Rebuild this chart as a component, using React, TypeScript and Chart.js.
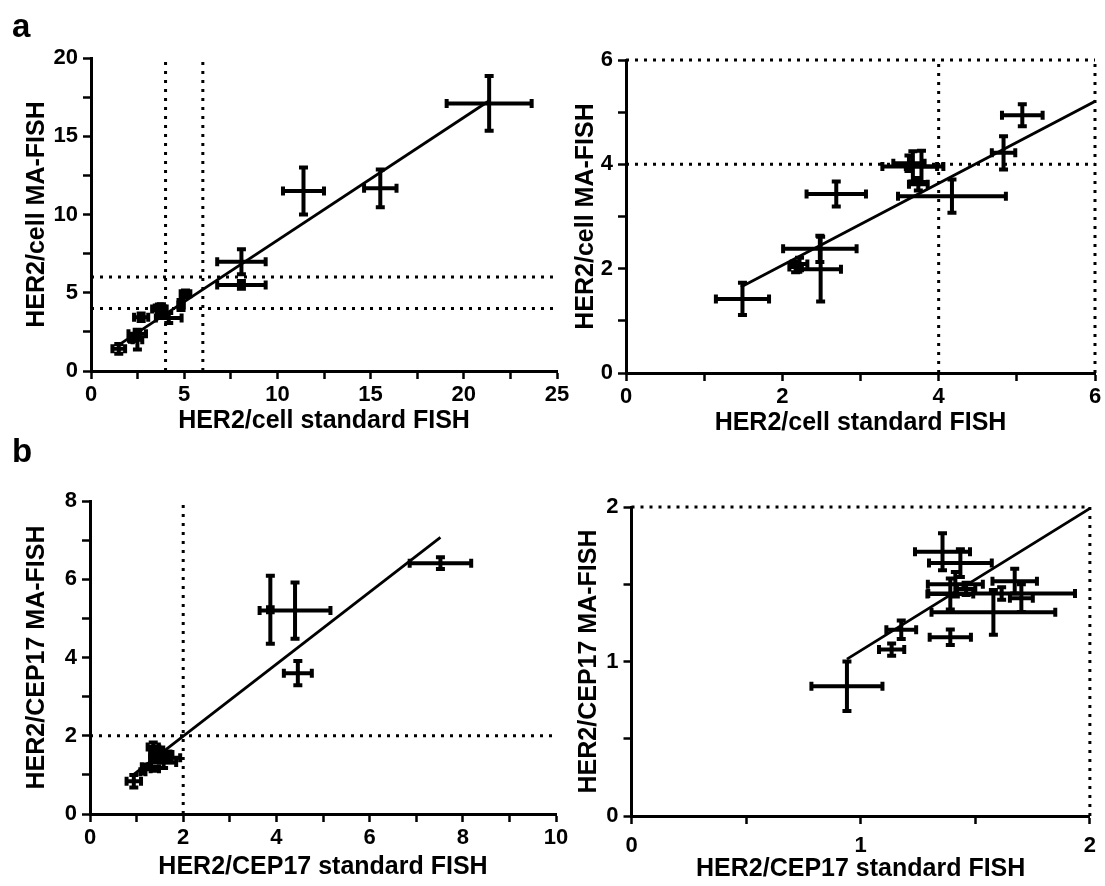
import React, { useEffect, useRef } from 'react';
import { Chart, registerables } from 'chart.js';

Chart.register(...registerables);

const FONT = "'Liberation Sans', Arial, Helvetica, sans-serif";

// HER2 copies per cell: standard FISH (x) vs MA-FISH (y), mean ± SD per sample
const cellStd = [21.36, 11.4, 15.52, 8.07, 8.07, 5.07, 4.83, 4.17, 3.67, 3.78, 3.74, 3.62, 2.69, 2.48, 2.49, 2.22, 2.17, 1.49];
const cellMa = [17.1, 11.5, 11.67, 6.98, 5.5, 4.94, 4.22, 3.39, 3.96, 3.96, 3.62, 4.02, 3.43, 2.38, 1.99, 2.09, 2.03, 1.42];
const cellStdSd = [2.28, 1.1, 0.87, 1.3, 1.3, 0.26, 0.15, 0.69, 0.39, 0.2, 0.12, 0.2, 0.38, 0.47, 0.26, 0.1, 0.08, 0.34];
const cellMaSd = [1.75, 1.5, 1.2, 0.8, 0.25, 0.21, 0.32, 0.32, 0.29, 0.3, 0.12, 0.15, 0.24, 0.25, 0.62, 0.12, 0.1, 0.31];
const cellFitX = [1.47, 21.36];
const cellFitY = [1.65, 17.27];
const cellCutoffs = [4, 6];

// HER2/CEP17 ratio: standard FISH (x) vs MA-FISH (y), mean ± SD per sample
const ratioStd = [7.52, 3.87, 4.4, 4.46, 1.357, 1.435, 1.413, 1.391, 1.615, 1.672, 1.701, 1.579, 1.391, 1.177, 1.135, 0.94, 1.46];
const ratioMa = [6.41, 5.22, 5.2, 3.6, 1.71, 1.637, 1.5, 1.437, 1.44, 1.52, 1.41, 1.318, 1.157, 1.206, 1.077, 0.84, 1.47];
const ratioStdSd = [0.66, 0.05, 0.76, 0.3, 0.12, 0.137, 0.12, 0.1, 0.32, 0.097, 0.05, 0.27, 0.09, 0.065, 0.055, 0.155, 0.04];
const ratioMaSd = [0.15, 0.87, 0.72, 0.31, 0.12, 0.09, 0.08, 0.1, 0.04, 0.08, 0.09, 0.145, 0.05, 0.06, 0.04, 0.16, 0.04];
const ratioFitX = [0.94, 7.52];
const ratioFitY = [1.015, 7.07];
const ratioCutoffs = [2];

type Series = {
  xs: number[];
  ys: number[];
  xe: number[];
  ye: number[];
  fitX: number[];
  fitY: number[];
  cut: number[];
};

const cellSeries: Series = { xs: cellStd, ys: cellMa, xe: cellStdSd, ye: cellMaSd, fitX: cellFitX, fitY: cellFitY, cut: cellCutoffs };
const ratioSeries: Series = { xs: ratioStd, ys: ratioMa, xe: ratioStdSd, ye: ratioMaSd, fitX: ratioFitX, fitY: ratioFitY, cut: ratioCutoffs };

type PanelSpec = {
  box: [number, number, number, number]; // canvas left, top, width, height
  area: [number, number, number, number]; // plot area left, top, right, bottom inside the canvas
  xMax: number; xStep: number; xLabelEvery: number;
  yMax: number; yStep: number; yLabelEvery: number;
  xTitle: string; yTitle: string;
  yTitleX: number; xAxisH: number; xTickPad: number;
  series: Series;
};

const panels: PanelSpec[] = [
  {
    box: [0, 0, 585, 445], area: [91, 58, 557, 371],
    xMax: 25, xStep: 2.5, xLabelEvery: 5, yMax: 20, yStep: 2.5, yLabelEvery: 5,
    xTitle: 'HER2/cell standard FISH', yTitle: 'HER2/cell MA-FISH',
    yTitleX: 37.5, xAxisH: 65, xTickPad: 3, series: cellSeries,
  },
  {
    box: [560, 0, 545, 445], area: [66, 60, 535, 373],
    xMax: 6, xStep: 1, xLabelEvery: 2, yMax: 6, yStep: 1, yLabelEvery: 2,
    xTitle: 'HER2/cell standard FISH', yTitle: 'HER2/cell MA-FISH',
    yTitleX: 26, xAxisH: 65, xTickPad: 3, series: cellSeries,
  },
  {
    box: [0, 440, 585, 446], area: [90, 61, 556, 374],
    xMax: 10, xStep: 1, xLabelEvery: 2, yMax: 8, yStep: 1, yLabelEvery: 2,
    xTitle: 'HER2/CEP17 standard FISH', yTitle: 'HER2/CEP17 MA-FISH',
    yTitleX: 37, xAxisH: 68, xTickPad: 3, series: ratioSeries,
  },
  {
    box: [560, 440, 545, 446], area: [71.5, 67, 534, 376],
    xMax: 2, xStep: 0.5, xLabelEvery: 1, yMax: 2, yStep: 0.5, yLabelEvery: 1,
    xTitle: 'HER2/CEP17 standard FISH', yTitle: 'HER2/CEP17 MA-FISH',
    yTitleX: 29.5, xAxisH: 68, xTickPad: 9, series: ratioSeries,
  },
];

// Draws symmetric x/y error bars with end caps for datasets carrying errX/errY
const errorBarPlugin = {
  id: 'errorBars',
  afterDatasetsDraw(chart: any) {
    const { ctx, chartArea, scales } = chart;
    const xs = scales.x;
    const ys = scales.y;
    const cap = 4.5;
    ctx.save();
    ctx.beginPath();
    ctx.rect(chartArea.left - 5, chartArea.top - 5, chartArea.width + 10, chartArea.height + 10);
    ctx.clip();
    ctx.strokeStyle = '#000';
    ctx.lineWidth = 4;
    ctx.lineCap = 'butt';
    chart.data.datasets.forEach((ds: any) => {
      if (!ds.errX) return;
      ds.data.forEach((pt: any, i: number) => {
        const cx = xs.getPixelForValue(pt.x);
        const cy = ys.getPixelForValue(pt.y);
        const x0 = xs.getPixelForValue(pt.x - ds.errX[i]);
        const x1 = xs.getPixelForValue(pt.x + ds.errX[i]);
        const y0 = ys.getPixelForValue(pt.y - ds.errY[i]);
        const y1 = ys.getPixelForValue(pt.y + ds.errY[i]);
        ctx.beginPath();
        ctx.moveTo(x0, cy); ctx.lineTo(x1, cy);
        ctx.moveTo(cx, y0); ctx.lineTo(cx, y1);
        ctx.moveTo(x0, cy - cap); ctx.lineTo(x0, cy + cap);
        ctx.moveTo(x1, cy - cap); ctx.lineTo(x1, cy + cap);
        ctx.moveTo(cx - cap, y0); ctx.lineTo(cx + cap, y0);
        ctx.moveTo(cx - cap, y1); ctx.lineTo(cx + cap, y1);
        ctx.stroke();
      });
    });
    ctx.restore();
  },
};

const isMultiple = (v: number, every: number) => Math.abs(v / every - Math.round(v / every)) < 1e-6;

function buildConfig(p: PanelSpec): any {
  const s = p.series;
  const idx = s.xs.map((_, i) => i).filter((i) => s.xs[i] <= p.xMax && s.ys[i] <= p.yMax);
  const points = idx.map((i) => ({ x: s.xs[i], y: s.ys[i] }));
  const [cw, ch] = [p.box[2], p.box[3]];
  const [al, at, ar, ab] = p.area;

  const dotted = {
    type: 'scatter',
    showLine: true,
    borderColor: '#000',
    borderWidth: 3,
    borderDash: [3, 6],
    borderCapStyle: 'butt',
    pointRadius: 0,
    fill: false,
    clip: 6,
  };

  const refLines: any[] = [];
  s.cut.filter((c) => c <= p.xMax).forEach((c) => {
    refLines.push({ ...dotted, data: [{ x: c, y: 0 }, { x: c, y: p.yMax }] });
  });
  s.cut.filter((c) => c <= p.yMax).forEach((c) => {
    refLines.push({ ...dotted, data: [{ x: 0, y: c }, { x: p.xMax, y: c }] });
  });

  const tickFont = { family: FONT, size: 22, weight: 'bold' as const };
  const titleFont = { family: FONT, size: 25, weight: 'bold' as const };

  return {
    type: 'scatter',
    data: {
      datasets: [
        {
          type: 'scatter',
          data: points,
          errX: idx.map((i) => s.xe[i]),
          errY: idx.map((i) => s.ye[i]),
          pointStyle: 'rect',
          pointRadius: 2.5,
          backgroundColor: '#000',
          borderWidth: 0,
        },
        {
          type: 'scatter',
          showLine: true,
          data: s.fitX.map((x, i) => ({ x, y: s.fitY[i] })),
          borderColor: '#000',
          borderWidth: 2.8,
          pointRadius: 0,
          fill: false,
        },
        ...refLines,
      ],
    },
    options: {
      responsive: false,
      animation: false,
      events: [],
      layout: {
        padding: { left: 0, top: at, right: cw - ar, bottom: ch - ab - p.xAxisH },
      },
      plugins: { legend: { display: false }, tooltip: { enabled: false } },
      scales: {
        x: {
          type: 'linear',
          min: 0,
          max: p.xMax,
          afterFit: (sc: any) => { sc.height = p.xAxisH; },
          border: { display: true, color: '#000', width: 3 },
          grid: { drawOnChartArea: false, drawTicks: true, tickLength: 8, tickWidth: 2.5, tickColor: '#000', color: '#000' },
          ticks: {
            stepSize: p.xStep,
            autoSkip: false,
            maxRotation: 0,
            padding: p.xTickPad,
            color: '#000',
            font: tickFont,
            callback: (v: any) => (isMultiple(Number(v), p.xLabelEvery) ? String(Math.round(Number(v) * 100) / 100) : ''),
          },
          title: { display: true, text: p.xTitle, color: '#000', font: titleFont, padding: { top: 0, bottom: 0 } },
        },
        y: {
          type: 'linear',
          min: 0,
          max: p.yMax,
          afterFit: (sc: any) => { sc.width = al; },
          border: { display: true, color: '#000', width: 3 },
          grid: { drawOnChartArea: false, drawTicks: true, tickLength: 8, tickWidth: 2.5, tickColor: '#000', color: '#000' },
          ticks: {
            stepSize: p.yStep,
            autoSkip: false,
            padding: 5,
            color: '#000',
            font: tickFont,
            callback: (v: any) => (isMultiple(Number(v), p.yLabelEvery) ? String(Math.round(Number(v) * 100) / 100) : ''),
          },
          title: { display: true, text: p.yTitle, color: '#000', font: titleFont, padding: { top: p.yTitleX - 15, bottom: 0 } },
        },
      },
    },
    plugins: [errorBarPlugin],
  };
}

function Panel({ spec }: { spec: PanelSpec }) {
  const ref = useRef<HTMLCanvasElement | null>(null);
  useEffect(() => {
    if (!ref.current) return;
    const chart = new Chart(ref.current, buildConfig(spec));
    return () => chart.destroy();
  }, [spec]);
  const [l, t, w, h] = spec.box;
  return (
    <canvas
      ref={ref}
      width={w}
      height={h}
      style={{ position: 'absolute', left: l, top: t, width: w, height: h }}
    />
  );
}

const letterStyle: React.CSSProperties = {
  position: 'absolute',
  fontFamily: FONT,
  fontWeight: 'bold',
  fontSize: 33,
  lineHeight: '33px',
  color: '#000',
};

export default function App() {
  return (
    <div
      style={{
        position: 'absolute',
        left: 0,
        top: 0,
        width: 1105,
        height: 886,
        overflow: 'hidden',
        background: '#fff',
      }}
    >
      {panels.map((p, i) => (
        <Panel key={i} spec={p} />
      ))}
      <div style={{ ...letterStyle, left: 12, top: 9 }}>a</div>
      <div style={{ ...letterStyle, left: 12, top: 434 }}>b</div>
    </div>
  );
}
